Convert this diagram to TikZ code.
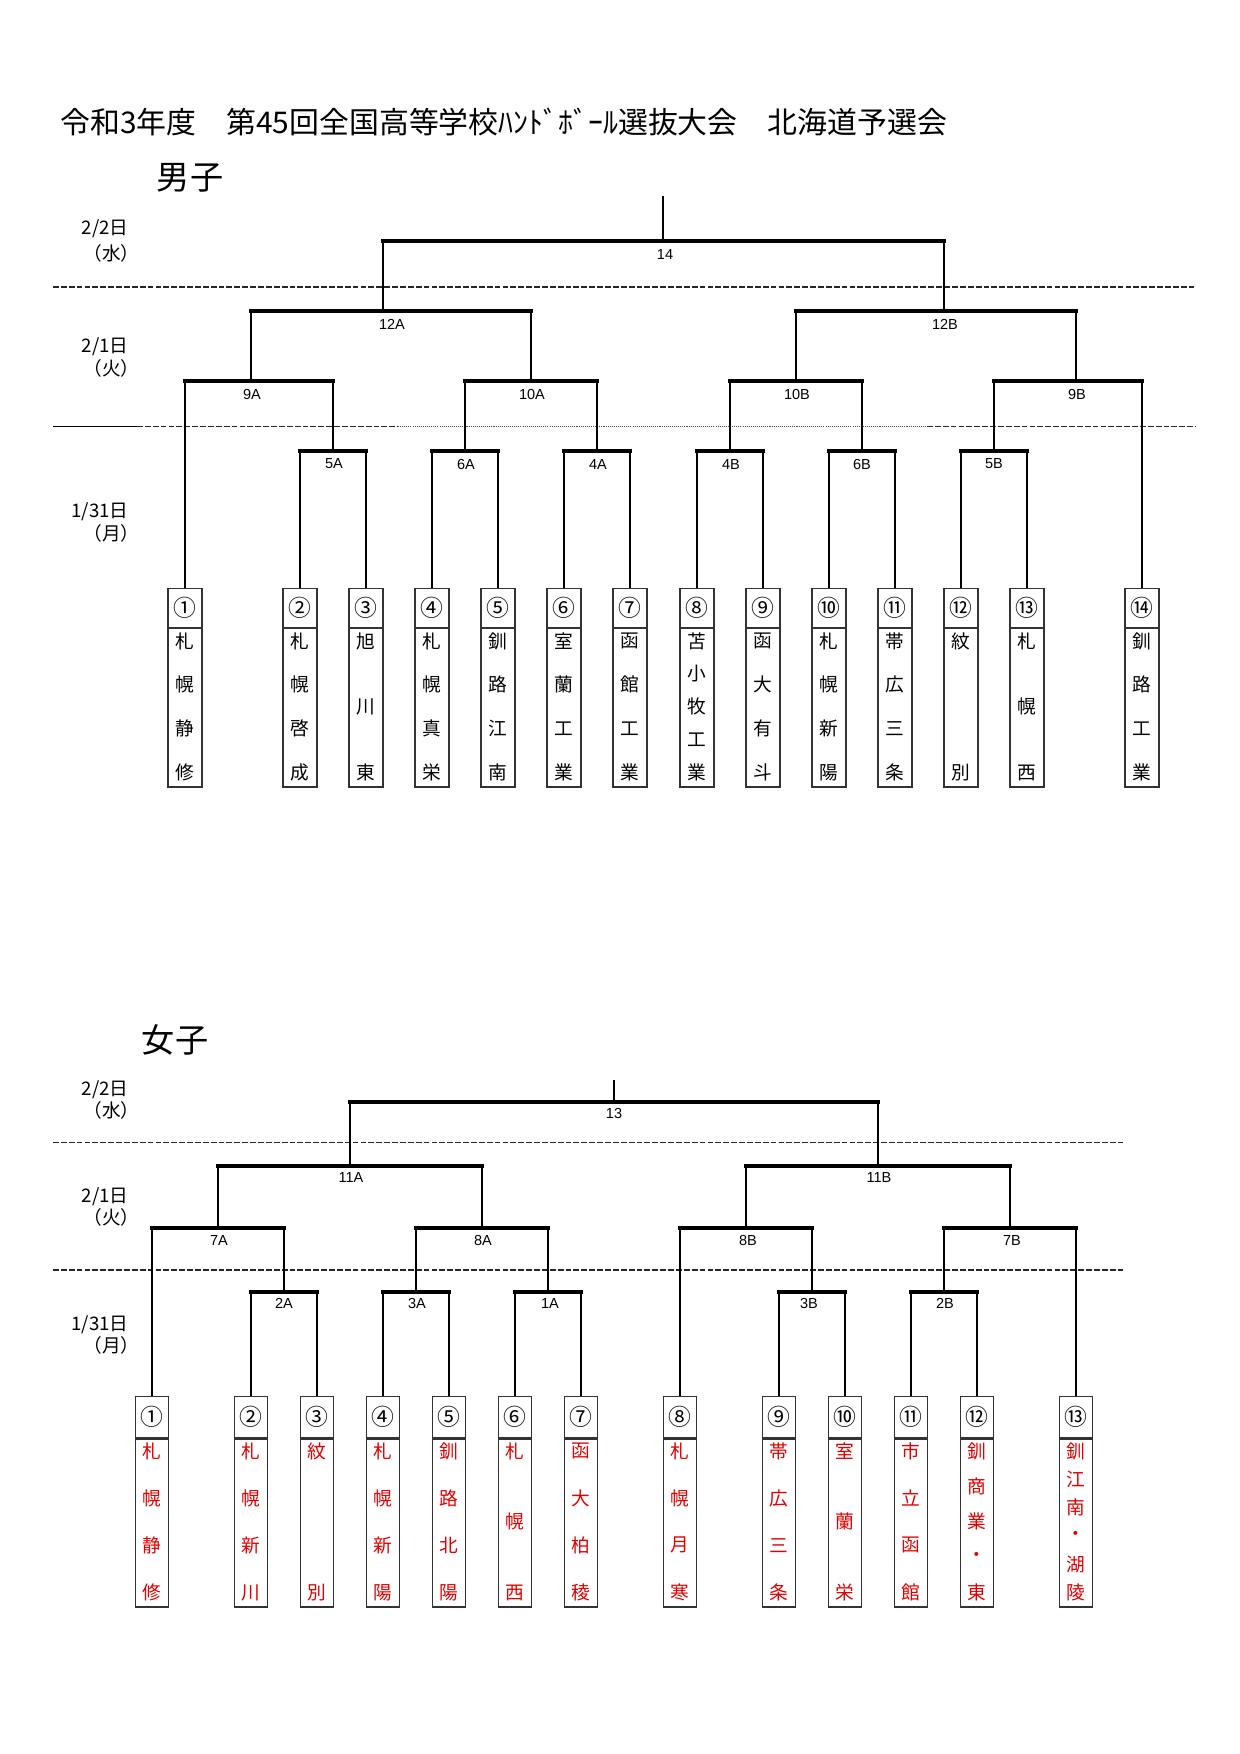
\documentclass[tikz,border=0pt]{standalone}
\usepackage{fontspec}
\setmainfont{Noto Sans CJK JP}
\newfontfamily\roundfont{Liberation Sans}
\usetikzlibrary{calc}
\definecolor{teamred}{RGB}{225,0,0}
\def\px{0.16935mm}

\tikzset{
  hline/.style={line width=1.8pt, line cap=rect},
  vline/.style={line width=1.4pt},
  dayline/.style={line width=0.6pt, black!85, dash pattern=on 2.8pt off 1pt},
  dotline/.style={line width=0.6pt, black!70, dash pattern=on 0.5pt off 0.5pt},
  numcell/.style={draw=black!80, line width=0.6pt, anchor=north, inner sep=0pt,
    minimum width={\boxw*\px}, minimum height={(\boxdiv-\boxtop)*\px}, font=\fontsize{11}{11}\selectfont},
  namecell/.style={draw=black!80, line width=0.6pt, anchor=north, inner sep=0pt,
    minimum width={\boxw*\px}, minimum height={(\boxbot-\boxdiv)*\px}},
  teamchar/.style={inner sep=0pt, text=\namecolor, font=\fontsize{9}{9}\selectfont},
  roundlbl/.style={inner sep=0pt, font=\roundfont\fontsize{7}{7}\selectfont},
  datelbl/.style={inner sep=0pt, anchor=east, font=\fontsize{9}{9}\selectfont},
}

% team box: id, x, number, letters
\newcommand{\team}[4]{%
  \node[numcell] (#1n) at (#2,\boxtop) {#3};
  \node[namecell] (#1t) at (#1n.south) {};
  \foreach \ch [count=\k] in {#4} {\xdef\nch{\k}}
  \foreach \ch [count=\k] in {#4}
    \node[teamchar] (#1c\k) at ({#2},{\boxdiv+14+(\k-1)*(\boxbot-\boxdiv-26.5)/(\nch-1)}) {\ch};
}
% match: junction, left, right
\newcommand{\bout}[3]{%
  \draw[vline] (#2) -- (#2 |- #1);
  \draw[vline] (#3) -- (#3 |- #1);
  \draw[hline] (#2 |- #1) -- (#3 |- #1);
}

\begin{document}
\begin{tikzpicture}[x=\px, y=-\px]
\useasboundingbox (0,0) rectangle (1240,1754);

\node[anchor=west, inner sep=0pt, font=\fontsize{14.4}{14.4}\selectfont] (title) at (60,122)
  {令和3年度　第45回全国高等学校ﾊﾝﾄﾞﾎﾞｰﾙ選抜大会　北海道予選会};
\node[inner sep=0pt, font=\fontsize{16}{16}\selectfont] (boys) at (190,178) {男子};
\node[inner sep=0pt, font=\fontsize{16}{16}\selectfont] (girls) at (175,1040) {女子};

% boys
\node[datelbl] (bd1) at (129,229) {2/2日};
\node[datelbl] (bd1w) at (140,253) {（水）};
\node[datelbl] (bd2) at (129,347) {2/1日};
\node[datelbl] (bd2w) at (140,368) {（火）};
\node[datelbl] (bd3) at (129,512) {1/31日};
\node[datelbl] (bd3w) at (140,533) {（月）};

\draw[dayline] (53,287) -- (1196,287);
\draw[line width=0.6pt] (53,426.7) -- (137,426.7);
\draw[dayline] (137,426.7) -- (398,426.7);
\draw[dotline] (398,426.7) -- (927,426.7);
\draw[dayline] (927,426.7) -- (1196,426.7);

\def\boxtop{588}\def\boxdiv{627}\def\boxbot{785}\def\boxw{34}\def\namecolor{black}
\team{m1}{185}{①}{札,幌,静,修}
\team{m2}{300}{②}{札,幌,啓,成}
\team{m3}{366}{③}{旭,川,東}
\team{m4}{432}{④}{札,幌,真,栄}
\team{m5}{498}{⑤}{釧,路,江,南}
\team{m6}{564}{⑥}{室,蘭,工,業}
\team{m7}{630}{⑦}{函,館,工,業}
\team{m8}{697}{⑧}{苫,小,牧,工,業}
\team{m9}{763}{⑨}{函,大,有,斗}
\team{m10}{829}{⑩}{札,幌,新,陽}
\team{m11}{895}{⑪}{帯,広,三,条}
\team{m12}{961}{⑫}{紋,別}
\team{m13}{1027}{⑬}{札,幌,西}
\team{m14}{1142}{⑭}{釧,路,工,業}

\coordinate (M5A) at (333,450.7);
\coordinate (M6A) at (465,450.7);
\coordinate (M4A) at (597,450.7);
\coordinate (M4B) at (730,450.7);
\coordinate (M6B) at (862,450.7);
\coordinate (M5B) at (994,450.7);
\coordinate (M9A) at (251,380.7);
\coordinate (M10A) at (531,380.7);
\coordinate (M10B) at (796,380.7);
\coordinate (M9B) at (1076,380.7);
\coordinate (M12A) at (383,310.7);
\coordinate (M12B) at (944,310.7);
\coordinate (M14) at (663,240.7);
\coordinate (Mtop) at (663,196);

\bout{M5A}{m2n.north}{m3n.north}
\bout{M6A}{m4n.north}{m5n.north}
\bout{M4A}{m6n.north}{m7n.north}
\bout{M4B}{m8n.north}{m9n.north}
\bout{M6B}{m10n.north}{m11n.north}
\bout{M5B}{m12n.north}{m13n.north}
\bout{M9A}{m1n.north}{M5A}
\bout{M10A}{M6A}{M4A}
\bout{M10B}{M4B}{M6B}
\bout{M9B}{M5B}{m14n.north}
\bout{M12A}{M9A}{M10A}
\bout{M12B}{M10B}{M9B}
\bout{M14}{M12A}{M12B}
\draw[vline] (M14) -- (Mtop);

\node[roundlbl] (l14) at (665,254) {14};
\node[roundlbl] (l12A) at (392,324) {12A};
\node[roundlbl] (l12B) at (945,324) {12B};
\node[roundlbl] (l9A) at (252,394) {9A};
\node[roundlbl] (l10A) at (532,394) {10A};
\node[roundlbl] (l10B) at (797,394) {10B};
\node[roundlbl] (l9B) at (1077,394) {9B};
\node[roundlbl] (l5A) at (334,464) {5A};
\node[roundlbl] (l6A) at (466,464) {6A};
\node[roundlbl] (l4A) at (598,464) {4A};
\node[roundlbl] (l4B) at (731,464) {4B};
\node[roundlbl] (l6B) at (862,464) {6B};
\node[roundlbl] (l5B) at (994,464) {5B};

% girls
\node[datelbl] (gd1) at (129,1090) {2/2日};
\node[datelbl] (gd1w) at (140,1110) {（水）};
\node[datelbl] (gd2) at (129,1197) {2/1日};
\node[datelbl] (gd2w) at (140,1217) {（火）};
\node[datelbl] (gd3) at (129,1325) {1/31日};
\node[datelbl] (gd3w) at (140,1345) {（月）};

\draw[dayline] (53,1142.7) -- (1125,1142.7);
\draw[dayline] (53,1270) -- (1125,1270);

\def\boxtop{1396}\def\boxdiv{1437}\def\boxbot{1605}\def\boxw{33}\def\namecolor{teamred}
\team{w1}{152}{①}{札,幌,静,修}
\team{w2}{251}{②}{札,幌,新,川}
\team{w3}{317}{③}{紋,別}
\team{w4}{383}{④}{札,幌,新,陽}
\team{w5}{449}{⑤}{釧,路,北,陽}
\team{w6}{515}{⑥}{札,幌,西}
\team{w7}{581}{⑦}{函,大,柏,稜}
\team{w8}{680}{⑧}{札,幌,月,寒}
\team{w9}{779}{⑨}{帯,広,三,条}
\team{w10}{845}{⑩}{室,蘭,栄}
\team{w11}{911}{⑪}{市,立,函,館}
\team{w12}{977}{⑫}{釧,商,業,・,東}
\team{w13}{1076}{⑬}{釧,江,南,・,湖,陵}

\coordinate (W2A) at (284,1291.7);
\coordinate (W3A) at (416,1291.7);
\coordinate (W1A) at (548,1291.7);
\coordinate (W3B) at (812,1291.7);
\coordinate (W2B) at (944,1291.7);
\coordinate (W7A) at (218,1228.3);
\coordinate (W8A) at (482,1228.3);
\coordinate (W8B) at (746,1228.3);
\coordinate (W7B) at (1010,1228.3);
\coordinate (W11A) at (350,1165.7);
\coordinate (W11B) at (878,1165.7);
\coordinate (W13) at (614,1101.7);
\coordinate (Wtop) at (614,1080);

\bout{W2A}{w2n.north}{w3n.north}
\bout{W3A}{w4n.north}{w5n.north}
\bout{W1A}{w6n.north}{w7n.north}
\bout{W3B}{w9n.north}{w10n.north}
\bout{W2B}{w11n.north}{w12n.north}
\bout{W7A}{w1n.north}{W2A}
\bout{W8A}{W3A}{W1A}
\bout{W8B}{w8n.north}{W3B}
\bout{W7B}{W2B}{w13n.north}
\bout{W11A}{W7A}{W8A}
\bout{W11B}{W8B}{W7B}
\bout{W13}{W11A}{W11B}
\draw[vline] (W13) -- (Wtop);

\node[roundlbl] (l13) at (614,1113) {13};
\node[roundlbl] (l11A) at (351,1177) {11A};
\node[roundlbl] (l11B) at (879,1177) {11B};
\node[roundlbl] (l7A) at (219,1240) {7A};
\node[roundlbl] (l8A) at (483,1240) {8A};
\node[roundlbl] (l8B) at (748,1240) {8B};
\node[roundlbl] (l7B) at (1012,1240) {7B};
\node[roundlbl] (l2A) at (284,1303) {2A};
\node[roundlbl] (l3A) at (417,1303) {3A};
\node[roundlbl] (l1A) at (550,1303) {1A};
\node[roundlbl] (l3B) at (809,1303) {3B};
\node[roundlbl] (l2B) at (945,1303) {2B};
\end{tikzpicture}
\end{document}
